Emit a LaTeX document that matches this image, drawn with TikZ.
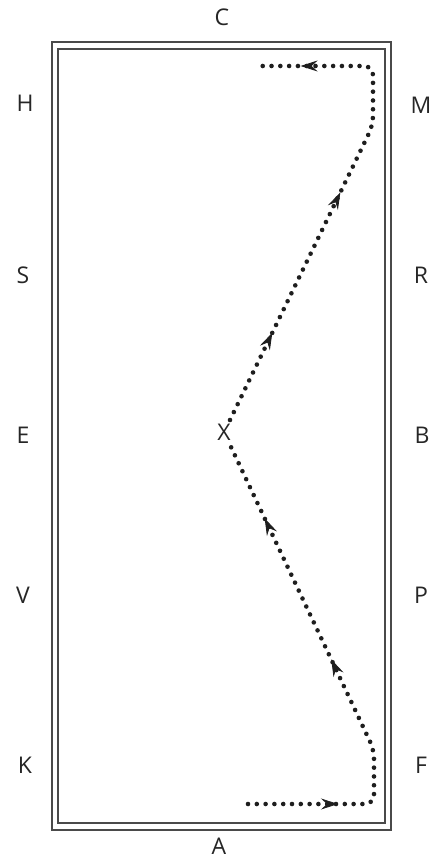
\documentclass[tikz,border=0pt]{standalone}
\usepackage{fontspec}
\setmainfont{Open Sans}
\usetikzlibrary{positioning, arrows.meta, decorations.markings}
\definecolor{FenceGrey}{HTML}{4A4A4A}
\definecolor{TrackBlack}{HTML}{1E1E1E}

\begin{document}
\begin{tikzpicture}[
    x=1pt, y=-1pt,
    letter/.style={text=black!85, font=\fontsize{23}{23}\selectfont, inner sep=0pt},
    fence/.style={draw=FenceGrey, line width=1.1pt},
    track/.style={draw=TrackBlack, line width=4.6pt, line cap=round, dash pattern=on 0pt off 8.8pt, rounded corners=9pt},
    tipmark/.style={line width=0.8pt}
]
    \useasboundingbox (0,0) rectangle (443,866);

    % arena fence (double line)
    \draw[fence] (52,42) rectangle (391,830);
    \draw[fence] (58,49) rectangle (385,823);

    % markers
    \node[letter] (C) at (222,17) {C};
    \node[letter] (A) at (219,846) {A};
    \node[letter] (H) at (25,103) {H};
    \node[letter] (S) at (23,275) {S};
    \node[letter] (E) at (23,435) {E};
    \node[letter] (V) at (23,595) {V};
    \node[letter] (K) at (25,765) {K};
    \node[letter] (M) at (421,105) {M};
    \node[letter] (R) at (421,275) {R};
    \node[letter] (B) at (422,435) {B};
    \node[letter] (P) at (421,595) {P};
    \node[letter] (F) at (421,765) {F};
    \node[letter] (X) at (224,432) {X};

    % track points
    \coordinate (a0) at (248,804);
    \coordinate (a1) at (374,804);
    \coordinate (a2) at (374,750);
    \coordinate (xlow) at (231,447);
    \coordinate (xup) at (230,420);
    \coordinate (m1) at (373,125);
    \coordinate (m2) at (373,66);
    \coordinate (c0) at (256,66);

    % A -> F -> X
    \draw[track, decoration={markings,
            mark=at position 90pt with {\arrow[tipmark, TrackBlack]{Stealth[length=17pt, width=11pt, inset=6pt]}},
            mark=at position 276pt with {\arrow[tipmark, TrackBlack]{Stealth[length=17pt, width=11pt, inset=6pt]}},
            mark=at position 432pt with {\arrow[tipmark, TrackBlack]{Stealth[length=17pt, width=11pt, inset=6pt]}}},
        postaction={decorate}]
        (a0) -- (a1) -- (a2) -- (xlow);

    % X -> M -> C
    \draw[track, decoration={markings,
            mark=at position 97pt with {\arrow[tipmark, TrackBlack]{Stealth[length=17pt, width=11pt, inset=6pt]}},
            mark=at position 253pt with {\arrow[tipmark, TrackBlack]{Stealth[length=17pt, width=11pt, inset=6pt]}},
            mark=at position 455pt with {\arrow[tipmark, TrackBlack]{Stealth[length=17pt, width=11pt, inset=6pt]}}},
        postaction={decorate}]
        (xup) -- (m1) -- (m2) -- (c0);
\end{tikzpicture}
\end{document}
